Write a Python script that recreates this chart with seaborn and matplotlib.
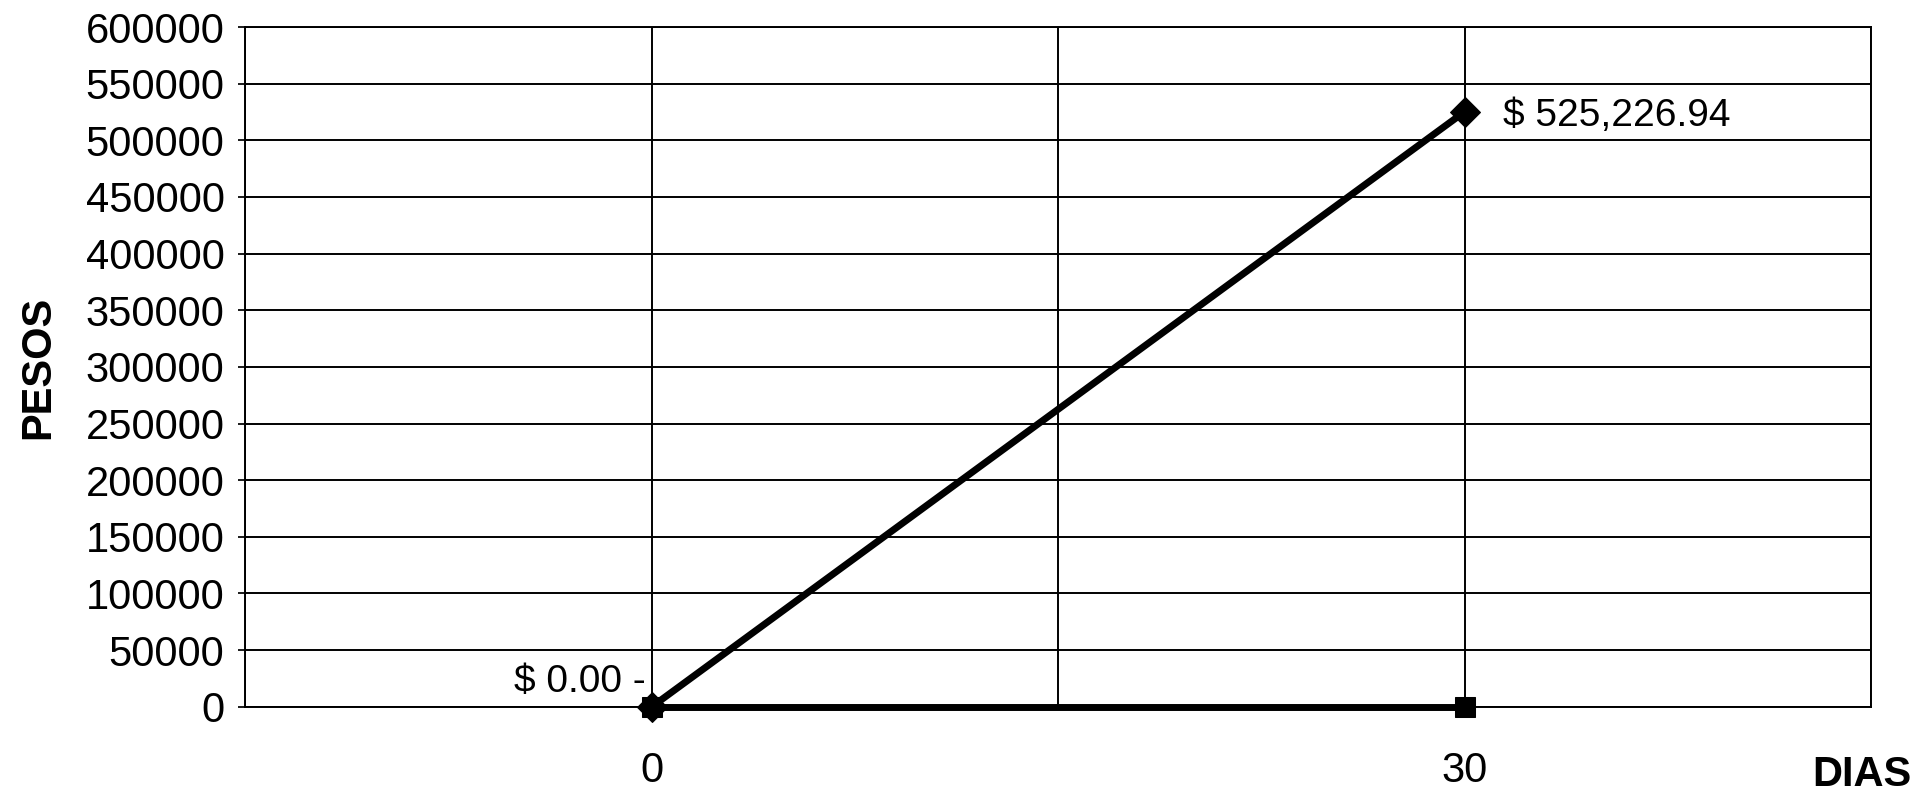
import pandas as pd
import seaborn as sns
import matplotlib.pyplot as plt

# data
dias = [0, 30]
acumulado = [0.0, 525226.94]
base = [0.0, 0.0]
x_grid = [-15, 0, 15, 30, 45]
x_labels = ['', '0', '', '30', '']
y_ticks = list(range(0, 600001, 50000))

df = pd.DataFrame({
    'dias': dias * 2,
    'pesos': acumulado + base,
    'serie': ['acumulado'] * len(dias) + ['base'] * len(dias),
})

sns.set_theme(style='white')
plt.rcParams['font.family'] = ['Liberation Sans', 'DejaVu Sans']
plt.rcParams['text.color'] = 'black'
plt.rcParams['xtick.color'] = 'black'
plt.rcParams['ytick.color'] = 'black'
plt.rcParams['axes.labelcolor'] = 'black'

fig = plt.figure(figsize=(19.17, 7.95), dpi=100)
ax = fig.add_axes([0.128, 0.111, 0.848, 0.855])

sns.lineplot(data=df, x='dias', y='pesos', hue='serie', style='serie',
             palette={'acumulado': 'black', 'base': 'black'},
             markers={'acumulado': 'D', 'base': 's'},
             dashes={'acumulado': '', 'base': ''},
             markersize=15, linewidth=5, legend=False, ax=ax, zorder=5,
             markeredgecolor='black')
for ln in ax.lines:
    ln.set_clip_on(False)

ax.set_xlim(-15, 45)
ax.set_ylim(0, 600000)
ax.set_xticks(x_grid, labels=x_labels)
ax.set_yticks(y_ticks, labels=[str(v) for v in y_ticks])
ax.tick_params(axis='y', labelsize=30, pad=10, length=5, left=True)
ax.tick_params(axis='x', labelsize=30, pad=32, length=0)
ax.grid(True, color='black', linewidth=1.4)
for s in ax.spines.values():
    s.set_color('black')
    s.set_linewidth(1.4)

ax.set_xlabel('')
ax.set_ylabel('PESOS', fontsize=30, fontweight='bold', labelpad=20)
fig.text(0.997, 0.0, 'DIAS', fontsize=30, fontweight='bold', ha='right', va='bottom')

# data labels
ax.annotate('$ 525,226.94', (dias[1], acumulado[1]), xytext=(28, -3),
            textcoords='offset points', fontsize=28, va='center', ha='left')
ax.annotate('$ 0.00 -', (dias[0], acumulado[0]), xytext=(-4, 18),
            textcoords='offset points', fontsize=28, va='center', ha='right')

fig.savefig('out.png', dpi=100, facecolor='white')
